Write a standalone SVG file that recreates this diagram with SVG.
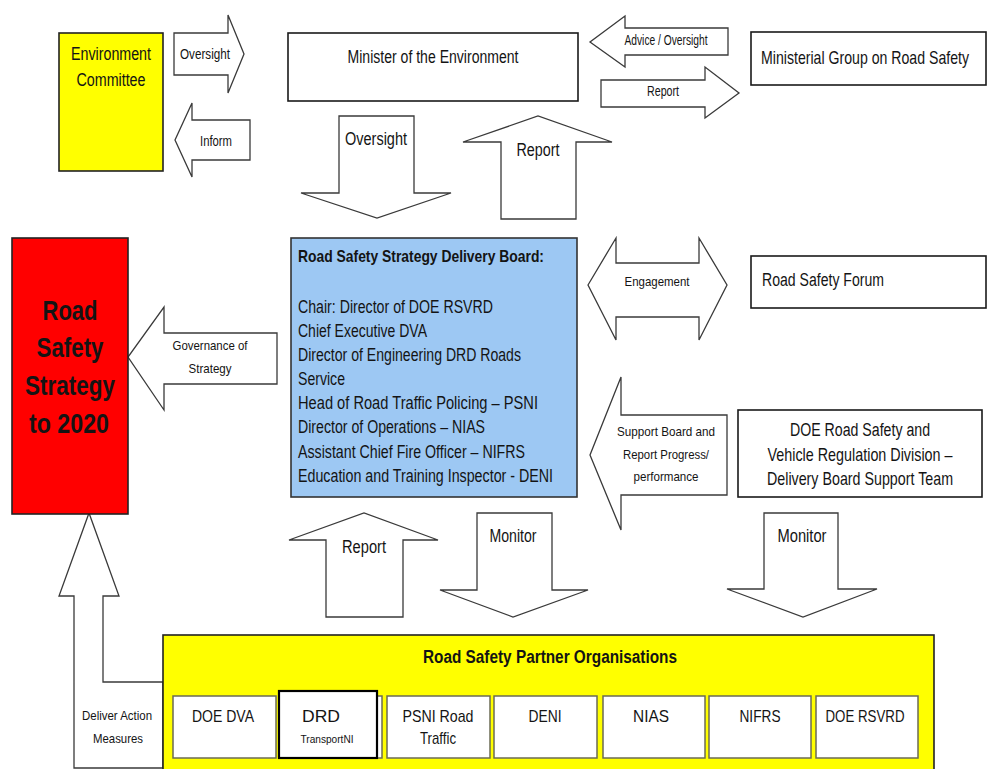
<svg xmlns="http://www.w3.org/2000/svg" width="988" height="769" viewBox="0 0 988 769">
<style>
text{font-family:"Liberation Sans",Arial,sans-serif;fill:#141414}
.m{text-anchor:middle}
.b{font-weight:bold}
.ar{fill:#fff;stroke:#3a3a3a;stroke-width:1.3;stroke-linejoin:miter}
.box{fill:#fff;stroke:#1a1a1a;stroke-width:1.6}
.pb{fill:#fff;stroke:#6b6b55;stroke-width:1.5}
</style>
<rect x="0" y="0" width="988" height="769" fill="#fff"/>

<g id="connectors">
  <g id="a-oversight-small"><polygon class="ar" points="174,33 228,33 228,15 244,54 228,93 228,75 174,75"/>
    <text class="m" x="205" y="59" font-size="15" textLength="50" lengthAdjust="spacingAndGlyphs">Oversight</text></g>
  <g id="a-inform"><polygon class="ar" points="250,120 192,120 192,103 175,140 192,177 192,160 250,160"/>
    <text class="m" x="216" y="146" font-size="14" textLength="32" lengthAdjust="spacingAndGlyphs">Inform</text></g>
  <g id="a-advice"><polygon class="ar" points="728,28 625,28 625,16 590,42 625,67 625,55 728,55"/>
    <text class="m" x="666" y="45" font-size="14" textLength="83" lengthAdjust="spacingAndGlyphs">Advice / Oversight</text></g>
  <g id="a-report-small"><polygon class="ar" points="601,80 705,80 705,67 739,93 705,118 705,107 601,107"/>
    <text class="m" x="663" y="96" font-size="14" textLength="32" lengthAdjust="spacingAndGlyphs">Report</text></g>
  <g id="a-oversight-big"><polygon class="ar" points="339,116 414,116 414,193 451,193 377,218 301,193 339,193"/>
    <text class="m" x="376" y="145" font-size="18" textLength="62" lengthAdjust="spacingAndGlyphs">Oversight</text></g>
  <g id="a-report-big"><polygon class="ar" points="501,219 501,142 463,142 538,116 612,142 576,142 576,219"/>
    <text class="m" x="538" y="156" font-size="18" textLength="43" lengthAdjust="spacingAndGlyphs">Report</text></g>
  <g id="a-governance"><polygon class="ar" points="277,333 164,333 164,307 128,357 164,410 164,384 277,384"/>
    <text class="m" x="210" y="350" font-size="13" textLength="75" lengthAdjust="spacingAndGlyphs">Governance of</text>
    <text class="m" x="210" y="373" font-size="13" textLength="43" lengthAdjust="spacingAndGlyphs">Strategy</text></g>
  <g id="a-engagement"><polygon class="ar" points="588,285 616,238 616,263 699,263 699,238 727,285 699,340 699,317 616,317 616,340"/>
    <text class="m" x="657" y="286" font-size="13" textLength="65" lengthAdjust="spacingAndGlyphs">Engagement</text></g>
  <g id="a-support"><polygon class="ar" points="727,415 621,415 621,377 590,455 621,530 621,495 727,495"/>
    <text class="m" x="666" y="436" font-size="13" textLength="98" lengthAdjust="spacingAndGlyphs">Support Board and</text>
    <text class="m" x="666" y="459" font-size="13" textLength="86" lengthAdjust="spacingAndGlyphs">Report Progress/</text>
    <text class="m" x="666" y="481" font-size="13" textLength="65" lengthAdjust="spacingAndGlyphs">performance</text></g>
  <g id="a-report-bottom"><polygon class="ar" points="326,617 326,540 289,540 364,513 438,540 403,540 403,617"/>
    <text class="m" x="364" y="553" font-size="18" textLength="44" lengthAdjust="spacingAndGlyphs">Report</text></g>
  <g id="a-monitor1"><polygon class="ar" points="477,513 552,513 552,590 588,590 513,617 440,590 477,590"/>
    <text class="m" x="513" y="542" font-size="18" textLength="47" lengthAdjust="spacingAndGlyphs">Monitor</text></g>
  <g id="a-monitor2"><polygon class="ar" points="764,513 838,513 838,589 877,589 803,617 727,589 764,589"/>
    <text class="m" x="802" y="542" font-size="18" textLength="49" lengthAdjust="spacingAndGlyphs">Monitor</text></g>
  <g id="a-deliver"><polygon class="ar" points="163,682 103,682 103,596 119,596 89,513 59,596 74,596 74,768 163,768"/>
    <text class="m" x="117" y="720" font-size="13" textLength="70" lengthAdjust="spacingAndGlyphs">Deliver Action</text>
    <text class="m" x="118" y="743" font-size="13" textLength="50" lengthAdjust="spacingAndGlyphs">Measures</text></g>
</g>

<g id="env-committee">
  <rect x="59" y="33" width="104" height="138" fill="#ffff00" stroke="#222" stroke-width="1.6"/>
  <text class="m" x="111" y="60" font-size="18" textLength="80" lengthAdjust="spacingAndGlyphs">Environment</text>
  <text class="m" x="111" y="86" font-size="18" textLength="69" lengthAdjust="spacingAndGlyphs">Committee</text>
</g>

<g id="minister">
  <rect class="box" x="288" y="33" width="290" height="68"/>
  <text class="m" x="433" y="63" font-size="18" textLength="171" lengthAdjust="spacingAndGlyphs">Minister of the Environment</text>
</g>

<g id="ministerial-group">
  <rect class="box" x="751" y="32" width="235" height="53"/>
  <text transform="translate(761,64) scale(0.785,1)" x="0" y="0" font-size="18" textLength="265" lengthAdjust="spacingAndGlyphs">Ministerial Group on Road Safety</text>
</g>

<g id="strategy-2020">
  <rect x="12" y="238" width="116" height="276" fill="#ff0000" stroke="#222" stroke-width="1.6"/>
  <text class="m b" x="70" y="320" font-size="28" textLength="55" lengthAdjust="spacingAndGlyphs">Road</text>
  <text class="m b" x="70" y="357" font-size="28" textLength="67" lengthAdjust="spacingAndGlyphs">Safety</text>
  <text class="m b" x="70" y="395" font-size="28" textLength="90" lengthAdjust="spacingAndGlyphs">Strategy</text>
  <text class="m b" x="69" y="433" font-size="28" textLength="80" lengthAdjust="spacingAndGlyphs">to 2020</text>
</g>

<g id="delivery-board">
  <rect x="291" y="238" width="286" height="259" fill="#9dc8f3" stroke="#333" stroke-width="1.6"/>
  <text class="b" x="298" y="262" font-size="17" textLength="246" lengthAdjust="spacingAndGlyphs">Road Safety Strategy Delivery Board:</text>
  <text x="298" y="313" font-size="17.5" textLength="195" lengthAdjust="spacingAndGlyphs">Chair: Director of DOE RSVRD</text>
  <text x="298" y="337" font-size="17.5" textLength="129" lengthAdjust="spacingAndGlyphs">Chief Executive DVA</text>
  <text x="298" y="361" font-size="17.5" textLength="223" lengthAdjust="spacingAndGlyphs">Director of Engineering DRD Roads</text>
  <text x="298" y="385" font-size="17.5" textLength="47" lengthAdjust="spacingAndGlyphs">Service</text>
  <text x="298" y="409" font-size="17.5" textLength="240" lengthAdjust="spacingAndGlyphs">Head of Road Traffic Policing – PSNI</text>
  <text x="298" y="433" font-size="17.5" textLength="187" lengthAdjust="spacingAndGlyphs">Director of Operations – NIAS</text>
  <text x="298" y="458" font-size="17.5" textLength="227" lengthAdjust="spacingAndGlyphs">Assistant Chief Fire Officer – NIFRS</text>
  <text x="298" y="482" font-size="17.5" textLength="255" lengthAdjust="spacingAndGlyphs">Education and Training Inspector - DENI</text>
</g>

<g id="forum">
  <rect class="box" x="751" y="256" width="235" height="52"/>
  <text x="762" y="286" font-size="18" textLength="122" lengthAdjust="spacingAndGlyphs">Road Safety Forum</text>
</g>

<g id="support-team">
  <rect class="box" x="738" y="410" width="244" height="87"/>
  <text class="m" x="860" y="436" font-size="18" textLength="140" lengthAdjust="spacingAndGlyphs">DOE Road Safety and</text>
  <text class="m" transform="translate(860,461) scale(0.794,1)" x="0" y="0" font-size="18" textLength="233" lengthAdjust="spacingAndGlyphs">Vehicle Regulation Division –</text>
  <text class="m" transform="translate(860,485) scale(0.785,1)" x="0" y="0" font-size="18" textLength="237" lengthAdjust="spacingAndGlyphs">Delivery Board Support Team</text>
</g>

<g id="partners">
  <rect x="163" y="635" width="771" height="140" fill="#ffff00" stroke="#222" stroke-width="1.6"/>
  <text class="m b" x="550" y="663" font-size="18" textLength="254" lengthAdjust="spacingAndGlyphs">Road Safety Partner Organisations</text>
</g>

<g id="p-doe-dva">
  <rect class="pb" x="173" y="696" width="103" height="62"/>
  <text class="m" x="223" y="722" font-size="17" textLength="62" lengthAdjust="spacingAndGlyphs">DOE DVA</text>
</g>
<g id="p-drd">
  <rect class="pb" x="283" y="696" width="99" height="62"/>
  <rect x="279" y="691" width="98" height="67" fill="#fff" stroke="#000" stroke-width="2.2"/>
  <text class="m" x="321" y="722" font-size="17" textLength="38" lengthAdjust="spacingAndGlyphs">DRD</text>
  <text class="m" x="327" y="743" font-size="11" textLength="53" lengthAdjust="spacingAndGlyphs">TransportNI</text>
</g>
<g id="p-psni">
  <rect class="pb" x="387" y="696" width="103" height="62"/>
  <text class="m" x="438" y="722" font-size="17" textLength="71" lengthAdjust="spacingAndGlyphs">PSNI Road</text>
  <text class="m" x="438" y="744" font-size="17" textLength="36" lengthAdjust="spacingAndGlyphs">Traffic</text>
</g>
<g id="p-deni">
  <rect class="pb" x="494" y="696" width="103" height="62"/>
  <text class="m" x="545" y="722" font-size="17" textLength="33" lengthAdjust="spacingAndGlyphs">DENI</text>
</g>
<g id="p-nias">
  <rect class="pb" x="603" y="696" width="102" height="62"/>
  <text class="m" x="651" y="722" font-size="17" textLength="36" lengthAdjust="spacingAndGlyphs">NIAS</text>
</g>
<g id="p-nifrs">
  <rect class="pb" x="709" y="696" width="102" height="62"/>
  <text class="m" x="760" y="722" font-size="17" textLength="41" lengthAdjust="spacingAndGlyphs">NIFRS</text>
</g>
<g id="p-doe-rsvrd">
  <rect class="pb" x="816" y="696" width="102" height="62"/>
  <text class="m" x="865" y="722" font-size="17" textLength="79" lengthAdjust="spacingAndGlyphs">DOE RSVRD</text>
</g>
</svg>
